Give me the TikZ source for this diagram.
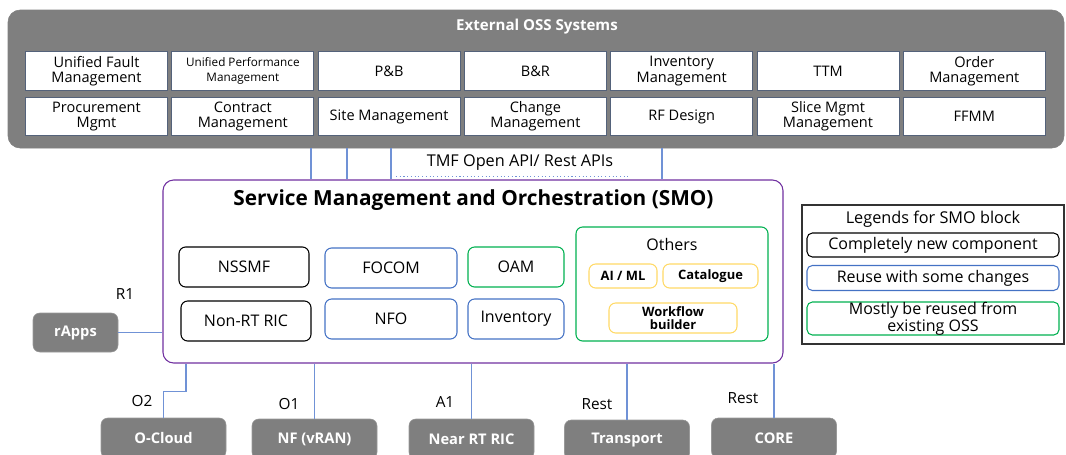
\documentclass[tikz,border=0pt]{standalone}
\usepackage{fontspec}
\setmainfont{Open Sans}
\usetikzlibrary{positioning}

\definecolor{ossgray}{RGB}{127,127,127}
\definecolor{cellframe}{RGB}{84,98,122}
\definecolor{smopurple}{RGB}{112,48,160}
\definecolor{reuseblue}{RGB}{68,114,196}
\definecolor{oldgreen}{RGB}{0,176,80}
\definecolor{aiyellow}{RGB}{255,217,102}
\definecolor{linkblue}{RGB}{112,146,214}

\tikzset{
  osscell/.style={draw=cellframe, fill=white, line width=0.6pt,
    minimum width=106.5pt, minimum height=28.8pt, inner sep=0pt,
    align=center, font=\fontsize{10.9}{11.5}\selectfont},
  smopart/.style={draw, rounded corners=5pt, line width=0.8pt,
    minimum height=30pt, inner sep=0pt, align=center,
    font=\fontsize{12}{13}\selectfont},
  newpart/.style={smopart, draw=black},
  reusepart/.style={smopart, draw=reuseblue},
  oldpart/.style={smopart, draw=oldgreen},
  extrapart/.style={smopart, draw=aiyellow, minimum height=18pt,
    font=\fontsize{9.7}{10.5}\selectfont\bfseries},
  legendpart/.style={draw, rounded corners=4pt, line width=0.8pt,
    minimum width=189pt, inner sep=0pt, align=center,
    font=\fontsize{12}{11.5}\selectfont},
  southbox/.style={fill=ossgray, draw=ossgray!80, rounded corners=5pt,
    minimum width=93.75pt, minimum height=30pt, inner sep=0pt,
    text=white, font=\fontsize{11}{12}\selectfont\bfseries},
  link/.style={draw=linkblue, line width=0.8pt},
  iflabel/.style={font=\fontsize{11.5}{12}\selectfont}
}

\begin{document}
\begin{tikzpicture}[x=0.75pt, y=-0.75pt]
    \useasboundingbox (0,0) rectangle (1066,454);

    % external OSS block
    \begin{scope}
        \node[
          fill=ossgray,
          draw=ossgray,
          rounded corners=9pt,
          minimum width=792pt,
          minimum height=103.5pt
        ] (oss) at (536,79) {};
        \node[text=white, font=\fontsize{11.3}{12}\selectfont\bfseries]
          (osstitle) at (537,27) {External OSS Systems};

        \foreach \nm/\lbl [count=\i from 0] in {
            uf/{Unified Fault\\Management},
            up/{\fontsize{8.8}{10}\selectfont Unified Performance\\\fontsize{8.8}{10}\selectfont Management},
            pb/{P\&B}, br/{B\&R},
            inv/{Inventory\\Management}, ttm/{TTM},
            om/{Order\\Management}}
            \node[osscell] (\nm) at (96.5+146.3*\i,71) {\lbl};

        \foreach \nm/\lbl [count=\i from 0] in {
            proc/{Procurement\\Mgmt}, contract/{Contract\\Management},
            site/{Site Management}, change/{Change\\Management},
            rf/{RF Design}, slice/{Slice Mgmt\\Management},
            ffmm/{FFMM}}
            \node[osscell] (\nm) at (96.5+146.3*\i,116.5) {\lbl};
    \end{scope}

    % SMO block
    \begin{scope}
        \node[
          draw=smopurple,
          line width=0.8pt,
          rounded corners=8pt,
          minimum width=465pt,
          minimum height=137.25pt
        ] (smo) at (473,271.5) {};
        \node[font=\fontsize{15.6}{17}\selectfont\bfseries]
          (smotitle) at (473.5,200) {Service Management and Orchestration (SMO)};

        \node[newpart, minimum width=97.5pt] (nssmf) at (244,267) {NSSMF};
        \node[newpart, minimum width=97.5pt] (nonrt) at (246,321) {Non-RT RIC};
        \node[reusepart, minimum width=99pt] (focom) at (391,268) {FOCOM};
        \node[reusepart, minimum width=99pt] (nfo) at (391,319) {NFO};
        \node[oldpart, minimum width=72pt] (oam) at (516,267) {OAM};
        \node[reusepart, minimum width=72pt] (inventory) at (516,319) {Inventory};

        \node[oldpart, minimum width=144pt, minimum height=85.5pt]
          (others) at (672,284) {};
        \node[font=\fontsize{12}{13}\selectfont] (otherstitle) at (672,244) {Others};
        \node[extrapart, minimum width=51pt] (aiml) at (623,276) {AI / ML};
        \node[extrapart, minimum width=71.25pt] (catalogue) at (710.5,276) {Catalogue};
        \node[extrapart, minimum width=96pt, minimum height=22.5pt]
          (workflow) at (673,318) {Workflow\\[-0.5pt]builder};
    \end{scope}

    % legend
    \begin{scope}
        \node[
          draw=black!80,
          line width=0.8pt,
          minimum width=196.5pt,
          minimum height=104.25pt
        ] (legend) at (933,274.5) {};
        \node[font=\fontsize{12.2}{13}\selectfont] (legendtitle) at (933,219) {Legends for SMO block};
        \node[legendpart, draw=black, minimum height=18pt] (lgnew) at (933,245) {Completely new component};
        \node[legendpart, draw=reuseblue, minimum height=18.75pt] (lgreuse) at (933,278) {Reuse with some changes};
        \node[legendpart, draw=oldgreen, minimum height=23.25pt] (lgold) at (933,318.5) {Mostly be reused from\\existing OSS};
    \end{scope}

    % northbound APIs
    \draw[link] (oss.south -| 311,0) -- (smo.north -| 311,0);
    \draw[link] (oss.south -| 347,0) -- (smo.north -| 347,0);
    \draw[link] (oss.south -| 391,0) -- (smo.north -| 391,0);
    \draw[link] (oss.south -| 662,0) -- (smo.north -| 662,0);
    \node[iflabel, font=\fontsize{12.2}{13}\selectfont] (tmf) at (520,163) {TMF Open API/ Rest APIs};
    \draw[link, dotted] (tmf.south west -| 396,0) ++(0,1) -- ++(232,0);

    % rApps
    \node[southbox, minimum width=63.75pt, minimum height=29.25pt] (rapps) at (75.5,332.5) {rApps};
    \draw[link] (rapps.east) -- (rapps.east -| smo.west);
    \node[iflabel] (r1) at (125,294) {R1};

    % southbound
    \node[southbox] (ocloud) at (163.5,438) {O-Cloud};
    \node[southbox] (nfvran) at (314.5,439) {NF (vRAN)};
    \node[southbox] (nearrt) at (471.5,439) {Near RT RIC};
    \node[southbox] (transport) at (627,440) {Transport};
    \node[southbox] (core) at (774,438) {CORE};

    \draw[link] (smo.south -| 186,0) -- ++(0,28) -| (ocloud.north);
    \draw[link] (nfvran.north |- smo.south) -- (nfvran.north);
    \draw[link] (nearrt.north |- smo.south) -- (nearrt.north);
    \draw[link] (transport.north |- smo.south) -- (transport.north);
    \draw[link] (core.north |- smo.south) -- (core.north);

    \node[iflabel] (o2) at (142,401) {O2};
    \node[iflabel] (o1) at (289,404) {O1};
    \node[iflabel] (a1) at (445,402) {A1};
    \node[iflabel] (rest1) at (597,404) {Rest};
    \node[iflabel] (rest2) at (743,398) {Rest};

\end{tikzpicture}
\end{document}
